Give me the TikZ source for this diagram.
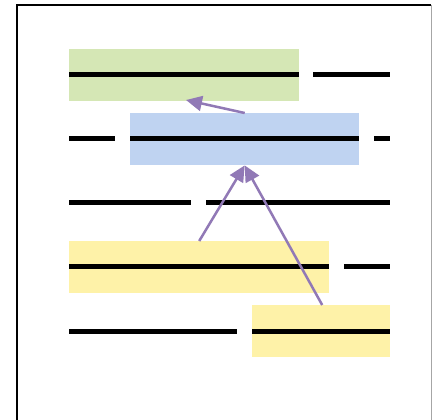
\documentclass[tikz,border=0pt]{standalone}
\usetikzlibrary{arrows.meta}
\definecolor{boxgreen}{HTML}{D5E7B5}
\definecolor{boxblue}{HTML}{BFD3F1}
\definecolor{boxyellow}{HTML}{FEF2A8}
\definecolor{linkpurple}{HTML}{9179B6}
\tikzset{
  band/.style={draw=none, minimum height=52pt, inner sep=0pt, anchor=north west},
  rule/.style={line width=5pt, black},
  link/.style={linkpurple, line width=2.5pt, -{Triangle[length=16pt,width=15pt]}}
}
\begin{document}
\begin{tikzpicture}[x=1pt, y=-1pt]
  \useasboundingbox (0,0) rectangle (432,420);
  \fill[white] (0,0) rectangle (432,420);
  % page frame
  \begin{scope}
    \clip (0,0) rectangle (432,420);
    \draw[line width=2pt] (17,440) -- (17,5) -- (431,5);
    \draw[line width=0.6pt, black!35] (431,5) -- (431,440);
  \end{scope}
  % highlighted bands
  \node[band, fill=boxgreen, minimum width=230pt] (green) at (69,49) {};
  \node[band, fill=boxblue, minimum width=229pt] (blue) at (130,113) {};
  \node[band, fill=boxyellow, minimum width=260pt] (yelA) at (69,241) {};
  \node[band, fill=boxyellow, minimum width=138pt] (yelB) at (252,305) {};
  % text lines
  \draw[rule] (69,75) -- (299,75);
  \draw[rule] (313,75) -- (390,75);
  \draw[rule] (69,139) -- (115,139);
  \draw[rule] (130,139) -- (359,139);
  \draw[rule] (374,139) -- (390,139);
  \draw[rule] (69,203) -- (191,203);
  \draw[rule] (206,203) -- (390,203);
  \draw[rule] (69,267) -- (329,267);
  \draw[rule] (344,267) -- (390,267);
  \draw[rule] (69,331) -- (237,331);
  \draw[rule] (252,331) -- (390,331);
  % links between bands
  \coordinate (gtip) at (186,100);
  \draw[link] (blue.north) -- (gtip);
  \draw[link] (yelA.north) -- (blue.south);
  \draw[link] ([xshift=1pt]yelB.north) -- (blue.south);
\end{tikzpicture}
\end{document}
